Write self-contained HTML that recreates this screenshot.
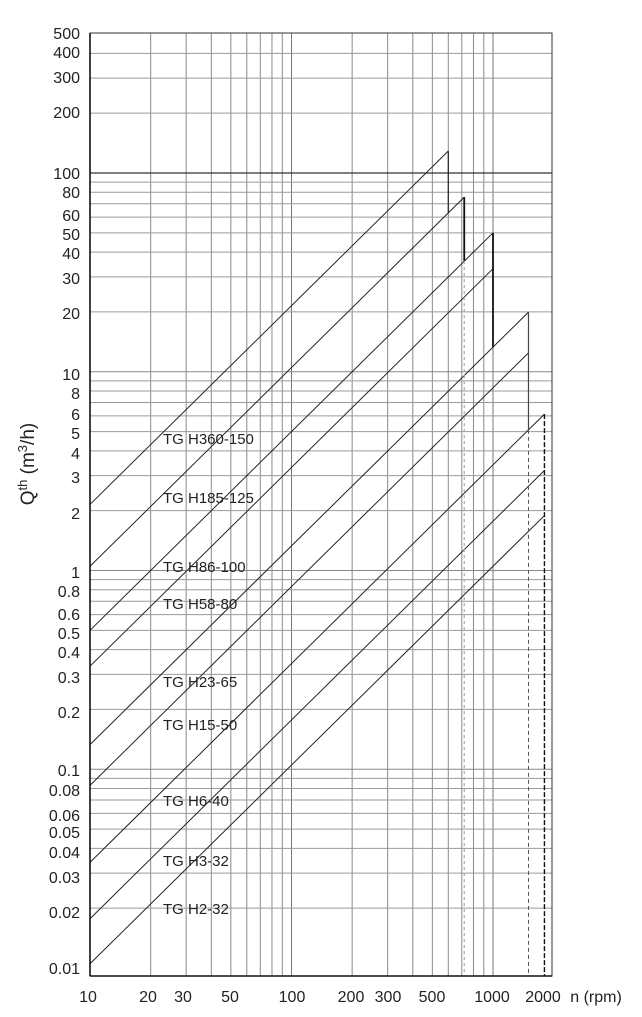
<!DOCTYPE html>
<html><head><meta charset="utf-8"><style>
html,body{margin:0;padding:0;background:#fff;}
svg{display:block;font-family:"Liberation Sans",Arial,sans-serif;}
</style></head><body>
<svg id="c" width="642" height="1017" viewBox="0 0 642 1017" xmlns="http://www.w3.org/2000/svg">
<g id="grid"></g>
<g id="series" fill="none" stroke="#222" stroke-width="1"></g>
<rect x="90" y="33" width="462" height="943" fill="none" stroke="#333" stroke-width="1"/>
<line x1="90" y1="33" x2="90" y2="976" stroke="#111" stroke-width="1.6"/>
<line x1="90" y1="976" x2="552" y2="976" stroke="#111" stroke-width="1.6"/>
<g font-size="16" fill="#222" text-anchor="end">
<text x="80" y="39">500</text><text x="80" y="58">400</text><text x="80" y="83">300</text><text x="80" y="118">200</text>
<text x="80" y="179">100</text><text x="80" y="198">80</text><text x="80" y="221">60</text><text x="80" y="240">50</text>
<text x="80" y="259">40</text><text x="80" y="284">30</text><text x="80" y="319">20</text><text x="80" y="380">10</text>
<text x="80" y="399">8</text><text x="80" y="420">6</text><text x="80" y="439">5</text><text x="80" y="459">4</text>
<text x="80" y="483">3</text><text x="80" y="519">2</text><text x="80" y="578">1</text><text x="80" y="597">0.8</text>
<text x="80" y="620">0.6</text><text x="80" y="639">0.5</text><text x="80" y="658">0.4</text><text x="80" y="683">0.3</text>
<text x="80" y="718">0.2</text><text x="80" y="776">0.1</text><text x="80" y="796">0.08</text><text x="80" y="821">0.06</text>
<text x="80" y="838">0.05</text><text x="80" y="858">0.04</text><text x="80" y="883">0.03</text><text x="80" y="918">0.02</text>
<text x="80" y="974">0.01</text>
</g>
<g font-size="16" fill="#222" text-anchor="middle">
<text x="88" y="1002">10</text><text x="148" y="1002">20</text><text x="183" y="1002">30</text><text x="230" y="1002">50</text>
<text x="292" y="1002">100</text><text x="351" y="1002">200</text><text x="388" y="1002">300</text><text x="432" y="1002">500</text>
<text x="492" y="1002">1000</text><text x="543" y="1002">2000</text>
<text x="596" y="1002">n  (rpm)</text>
</g>
<g font-size="15" fill="#222">
<text x="163" y="444">TG H360-150</text>
<text x="163" y="503">TG H185-125</text>
<text x="163" y="572">TG H86-100</text>
<text x="163" y="609">TG H58-80</text>
<text x="163" y="687">TG H23-65</text>
<text x="163" y="730">TG H15-50</text>
<text x="163" y="806">TG H6-40</text>
<text x="163" y="866">TG H3-32</text>
<text x="163" y="914">TG H2-32</text>
</g>
<text transform="translate(34,464) rotate(-90)" font-size="19" fill="#222" text-anchor="middle">Q<tspan font-size="13" dy="-7">th</tspan><tspan dy="7"> (m</tspan><tspan font-size="13" dy="-7">3</tspan><tspan dy="7">/h)</tspan></text>
</svg>
<script>
(function(){
var NS="http://www.w3.org/2000/svg";
function X(v){return 90+201.5*Math.log10(v/10);}
function Y(v){return 173-198.75*Math.log10(v/100);}
var g=document.getElementById('grid'),s=document.getElementById('series');
function L(p,x1,y1,x2,y2,c,w,d){var l=document.createElementNS(NS,'line');l.setAttribute('x1',x1);l.setAttribute('y1',y1);l.setAttribute('x2',x2);l.setAttribute('y2',y2);l.setAttribute('stroke',c);l.setAttribute('stroke-width',w||1);if(d)l.setAttribute('stroke-dasharray',d);p.appendChild(l);}
[10,100].forEach(function(b){for(var i=2;i<=9;i++){L(g,X(b*i),33,X(b*i),976,'#8a8a8a',1);}});
L(g,X(100),33,X(100),976,'#777',1);
L(g,X(1000),33,X(1000),976,'#777',1);
[0.01,0.1,1,10].forEach(function(b){for(var i=2;i<=9;i++){L(g,90,Y(b*i),552,Y(b*i),'#9a9a9a',1);}});
[0.1,1,10].forEach(function(v){L(g,90,Y(v),552,Y(v),'#888',1);});
[200,300,400].forEach(function(v){L(g,90,Y(v),552,Y(v),'#9a9a9a',1);});
L(g,90,Y(100),552,Y(100),'#333',1.2);
function seg(k,nmax){L(s,X(10),Y(k*10),X(nmax),Y(k*nmax),'#222',1);}
seg(0.215,600);seg(0.105,720);seg(0.05,1000);seg(0.033,1000);seg(0.0133,1500);seg(0.0083,1500);seg(0.0034,1800);seg(0.00177,1800);seg(0.00105,1800);
L(s,X(600),Y(0.215*600),X(600),Y(0.105*600),'#222',1.2);
L(s,X(720),Y(0.105*720),X(720),Y(0.05*720),'#111',1.8);
L(s,X(720),Y(0.05*720),X(720),976,'#aaa',1.2,'3,3');
L(s,X(1000),Y(0.05*1000),X(1000),Y(0.0133*1000),'#111',1.8);
L(s,X(1500),Y(0.0133*1500),X(1500),Y(0.0034*1500),'#444',1.2);
L(s,X(1500),Y(0.0034*1500),X(1500),976,'#555',1,'4,3');
L(s,X(1800),Y(0.0034*1800),X(1800),976,'#111',1.4,'5,2');
})();
</script>
</body></html>
